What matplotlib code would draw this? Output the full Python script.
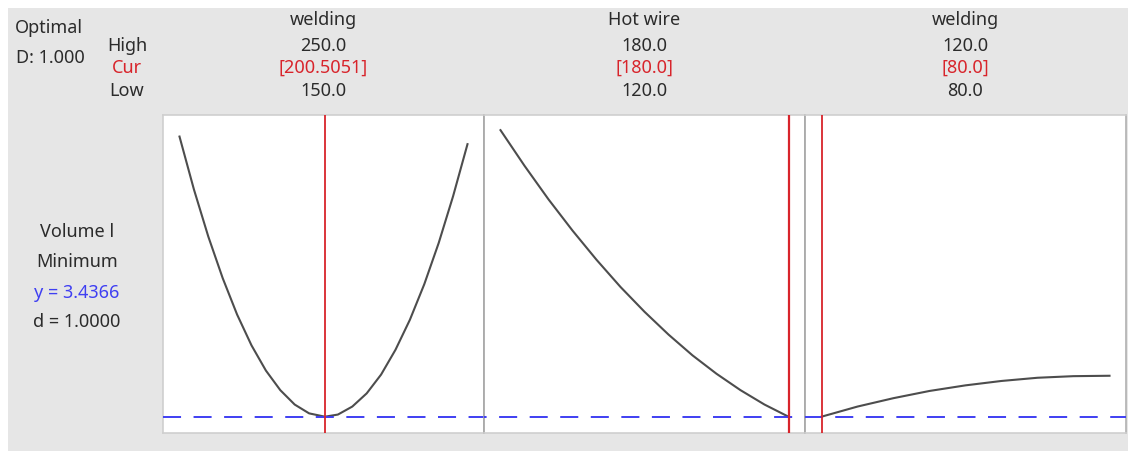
import matplotlib.pyplot as plt
from matplotlib.patches import Rectangle

plt.rcParams['font.family'] = ['Noto Sans', 'DejaVu Sans']
plt.rcParams['lines.scale_dashes'] = False

# Factor settings
factor_names = ['welding', 'Hot wire', 'welding']
factor_high = [250.0, 180.0, 120.0]
factor_low = [150.0, 120.0, 80.0]
factor_cur = [200.5051, 180.0, 80.0]
cur_labels = ['[200.5051]', '[180.0]', '[80.0]']

# Predicted response along each factor
welding1_x = [150, 155, 160, 165, 170, 175, 180, 185, 190, 195, 200.5,
              205, 210, 215, 220, 225, 230, 235, 240, 245, 250]
welding1_y = [10.44, 9.12, 7.94, 6.90, 5.99, 5.22, 4.59, 4.10, 3.74, 3.52, 3.4366,
              3.49, 3.69, 4.02, 4.49, 5.11, 5.86, 6.75, 7.78, 8.95, 10.25]

hotwire_x = [120, 125, 130, 135, 140, 145, 150, 155, 160, 165, 170, 175, 180]
hotwire_y = [10.60, 9.71, 8.87, 8.09, 7.36, 6.68, 6.06, 5.49, 4.97, 4.51, 4.10, 3.74, 3.4366]

welding2_x = [80, 85, 90, 95, 100, 105, 110, 115, 120]
welding2_y = [3.4366, 3.69, 3.90, 4.08, 4.22, 4.33, 4.41, 4.45, 4.46]

curves_x = [welding1_x, hotwire_x, welding2_x]
curves_y = [welding1_y, hotwire_y, welding2_y]

y_opt = 3.4366
response_name = 'Volume l'
goal = 'Minimum'
d_value = 1.0
D_value = 1.000

W, H = 1130, 451


def fx(px):
    return px / W


def fy(py):
    return 1 - py / H


fig = plt.figure(figsize=(W / 100, H / 100), dpi=100, facecolor='white')
fig.patches.append(Rectangle((fx(8), 0), fx(1128) - fx(8), fy(8), transform=fig.transFigure,
                             facecolor='#e6e6e6', edgecolor='none', zorder=-10))

txt = '#2b2b2b'
red = '#d8242b'
blue = '#3f3ff2'
fs = 13

panel_w = 321
top, bottom = 115, 433
for i in range(3):
    left = 163 + i * panel_w
    ax = fig.add_axes([fx(left), fy(bottom), panel_w / W, (bottom - top) / H])
    ax.set_facecolor('white')
    lo, hi = factor_low[i], factor_high[i]
    pad = (hi - lo) * 16.5 / 288
    ax.set_xlim(lo - pad, hi + pad)
    ax.set_ylim(3.029, 10.979)
    ax.set_xticks([])
    ax.set_yticks([])
    for s in ax.spines.values():
        s.set_color('#cfcfcf')
        s.set_linewidth(1.2)
    if i > 0:
        ax.spines['left'].set_color('#a3a3a3')
    if i == 2:
        ax.spines['right'].set_color('#b0b0b0')

    ax.plot(curves_x[i], curves_y[i], color='#4d4d4d', lw=1.5, zorder=2,
            solid_joinstyle='round')
    # keep the dash pattern continuous from one panel to the next
    offset = i * panel_w * 0.72
    ax.axhline(y_opt, color=blue, lw=1.4, linestyle=(offset, (13, 9)), zorder=3)
    ax.axvline(factor_cur[i], color=red, lw=1.6 if i == 1 else 1.3, zorder=4)

    cx = left + panel_w / 2
    fig.text(fx(cx), fy(20), factor_names[i], ha='center', va='center', fontsize=fs, color=txt)
    fig.text(fx(cx), fy(46), f'{factor_high[i]:.1f}', ha='center', va='center', fontsize=fs, color=txt)
    fig.text(fx(cx), fy(68), cur_labels[i], ha='center', va='center', fontsize=fs, color=red)
    fig.text(fx(cx), fy(91), f'{factor_low[i]:.1f}', ha='center', va='center', fontsize=fs, color=txt)

# Header block on the left
fig.text(fx(49), fy(28), 'Optimal', ha='center', va='center', fontsize=fs, color=txt)
fig.text(fx(50), fy(58), f'D: {D_value:.3f}', ha='center', va='center', fontsize=fs, color=txt)
fig.text(fx(127), fy(46), 'High', ha='center', va='center', fontsize=fs, color=txt)
fig.text(fx(127), fy(68), 'Cur', ha='center', va='center', fontsize=fs, color=red)
fig.text(fx(127), fy(91), 'Low', ha='center', va='center', fontsize=fs, color=txt)

# Response summary
fig.text(fx(77), fy(232), response_name, ha='center', va='center', fontsize=fs, color=txt)
fig.text(fx(77), fy(262), goal, ha='center', va='center', fontsize=fs, color=txt)
fig.text(fx(77), fy(293), f'y = {y_opt:.4f}', ha='center', va='center', fontsize=fs, color=blue)
fig.text(fx(77), fy(322), f'd = {d_value:.4f}', ha='center', va='center', fontsize=fs, color=txt)

fig.savefig('out.png', dpi=100, facecolor=fig.get_facecolor())
